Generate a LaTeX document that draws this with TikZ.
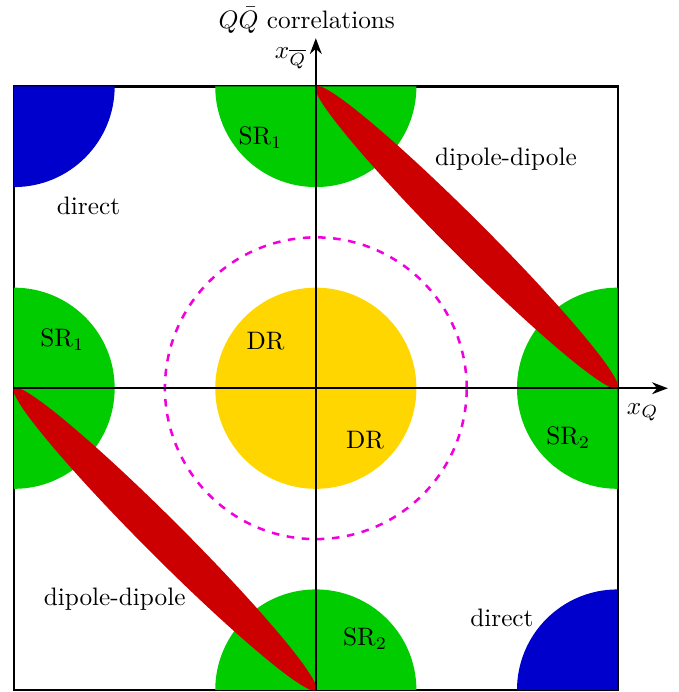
\documentclass[tikz,border=0pt]{standalone}
\usepackage{amsmath,amssymb}
\usepackage{xcolor}
\usepackage{tikz}
\usetikzlibrary{arrows.meta,positioning,calc}
\definecolor{srgreen}{RGB}{0,204,0}
\definecolor{ddred}{RGB}{204,0,0}
\definecolor{dirblue}{RGB}{0,0,204}
\definecolor{dryellow}{RGB}{255,214,0}
\definecolor{ringpink}{RGB}{240,0,220}

\begin{document}
\begin{tikzpicture}[
  x=1.4cm, y=1.4cm,
  frame/.style={draw, thick},
  srfill/.style={fill=srgreen},
  ddfill/.style={fill=ddred},
  dirfill/.style={fill=dirblue},
  drfill/.style={fill=dryellow},
  ring/.style={draw=ringpink, line width=1pt, dashed},
  axis/.style={-{Stealth[length=2.2mm]}, thick},
  lbl/.style={inner sep=1pt}
]
  \useasboundingbox (-3.14,-3.02) rectangle (3.61,3.86);

  % frame of the (x_Q, x_Qbar) plane
  \draw[frame] (-3,-3) rectangle (3,3);

  % direct regions (corners)
  \fill[dirfill] (-3,3) -- (-2,3) arc[start angle=0, end angle=-90, radius=1] -- cycle;
  \fill[dirfill] (3,-3) -- (2,-3) arc[start angle=180, end angle=90, radius=1] -- cycle;

  % SR regions (edges)
  \fill[srfill] (-1,3) arc[start angle=180, end angle=360, radius=1] -- cycle;
  \fill[srfill] (-3,1) arc[start angle=90, end angle=-90, radius=1] -- cycle;
  \fill[srfill] (3,1) arc[start angle=90, end angle=270, radius=1] -- cycle;
  \fill[srfill] (1,-3) arc[start angle=0, end angle=180, radius=1] -- cycle;

  % DR region (centre)
  \fill[drfill] (0,0) circle[radius=1];

  % dipole-dipole bands
  \fill[ddfill, rotate around={-45:(1.5,1.5)}] (1.5,1.5) ellipse[x radius=2.121, y radius=0.19];
  \fill[ddfill, rotate around={-45:(-1.5,-1.5)}] (-1.5,-1.5) ellipse[x radius=2.121, y radius=0.19];

  \draw[ring] (0,0) circle[radius=1.5];

  % axes
  \coordinate (xstart) at (-3,0);
  \coordinate (xend) at (3.5,0);
  \coordinate (ystart) at (0,-3);
  \coordinate (yend) at (0,3.48);
  \draw[axis] (xstart) -- (xend);
  \draw[axis] (ystart) -- (yend);

  \node[lbl] (title) at (-0.09,3.66) {$Q\bar{Q}$ correlations};
  \node[lbl] (xq) at (3.25,-0.24) {$x_Q$};
  \node[lbl] (xqbar) at (-0.25,3.28) {$x_{\overline{Q}}$};

  \node[lbl] (sr1top) at (-0.55,2.49) {SR$_1$};
  \node[lbl] (sr1left) at (-2.52,0.48) {SR$_1$};
  \node[lbl] (sr2right) at (2.51,-0.49) {SR$_2$};
  \node[lbl] (sr2bot) at (0.49,-2.49) {SR$_2$};
  \node[lbl] (drtop) at (-0.50,0.47) {DR};
  \node[lbl] (drbot) at (0.49,-0.52) {DR};
  \node[lbl] (ddtop) at (1.89,2.28) {dipole-dipole};
  \node[lbl] (ddbot) at (-2.0,-2.10) {dipole-dipole};
  \node[lbl] (dirtop) at (-2.26,1.81) {direct};
  \node[lbl] (dirbot) at (1.85,-2.28) {direct};
\end{tikzpicture}
\end{document}
